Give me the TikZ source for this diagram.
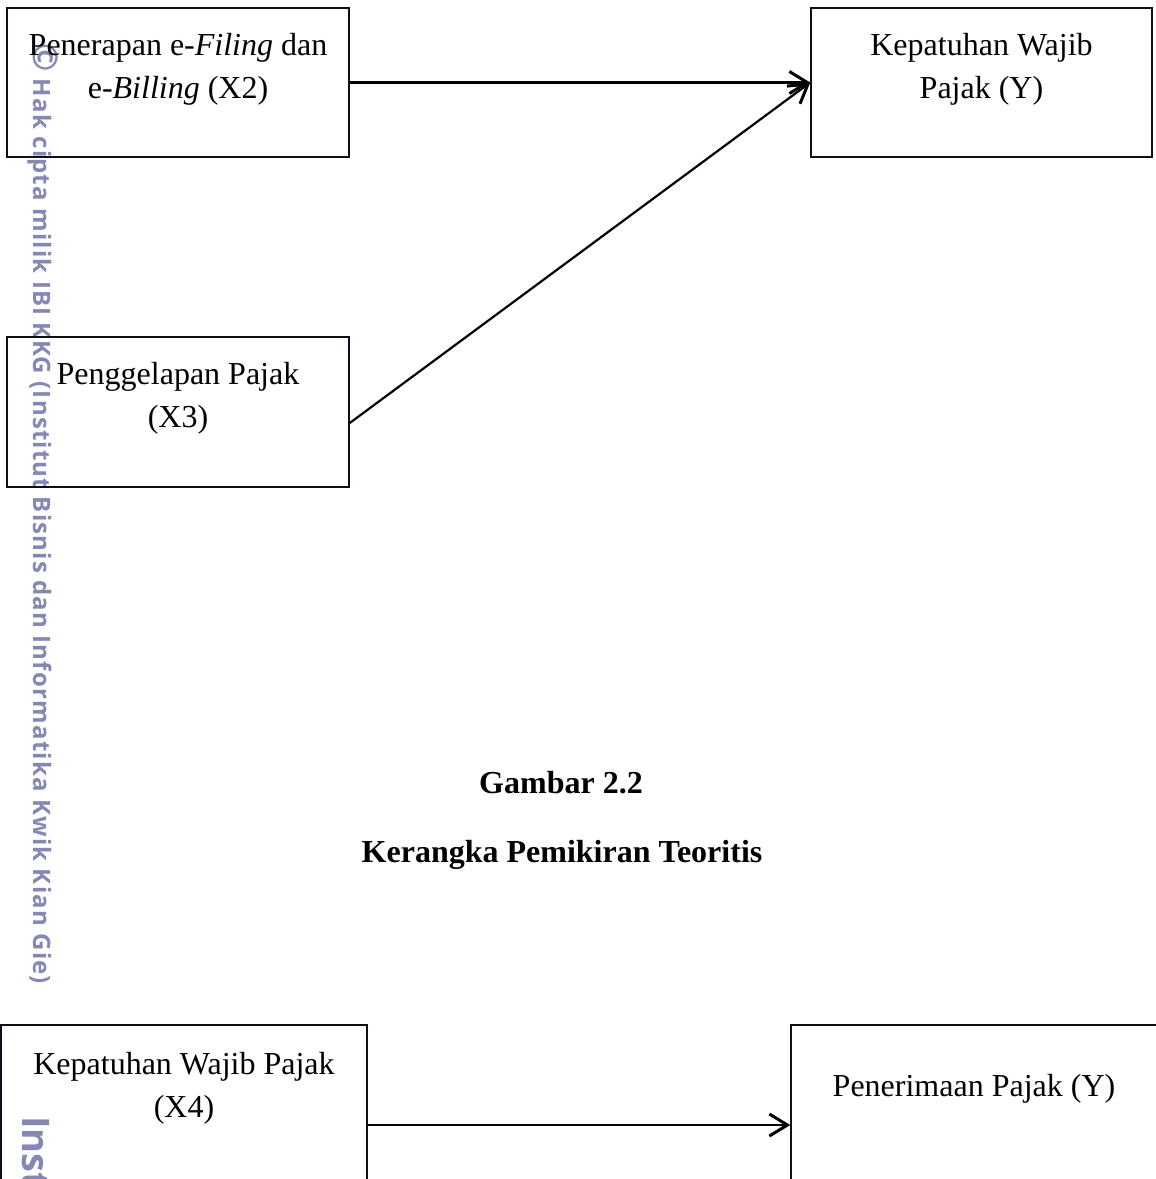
\documentclass[tikz,border=0pt]{standalone}
\usepackage{fontspec}
\setmainfont{Liberation Serif}
\newfontfamily\wmfont[LetterSpace=5]{Open Sans}
\newfontfamily\wmbigfont{Open Sans}
\usetikzlibrary{arrows.meta, positioning}
\definecolor{boxline}{RGB}{15,15,25}
\definecolor{boxblue}{RGB}{85,115,165}
\definecolor{wmgray}{RGB}{135,135,180}

\begin{document}
\begin{tikzpicture}[
    x=1pt, y=-1pt,
    font=\fontsize{32}{43}\selectfont,
    >={Straight Barb[length=18pt, width=22pt, line width=3pt]},
    box/.style={rectangle, draw=boxline, line width=1.5pt, preaction={draw=boxblue, line width=2.8pt}},
    boxtext/.style={inner sep=0pt, align=center},
    caption/.style={inner sep=0pt, anchor=base, font=\fontsize{32}{43}\selectfont\bfseries},
    link/.style={->, line width=2.2pt},
    watermark/.style={text=wmgray, rotate=-90, anchor=base west, inner sep=0pt, font=\wmfont\bfseries\fontsize{24}{24}\selectfont}
]

% Page
\fill[white] (0,0) rectangle (1156,1179);
\useasboundingbox (0,0) rectangle (1156,1179);
\clip (0,0) rectangle (1156,1179);

% Watermark
\node[watermark] (wm) at (33,43) {{\fontsize{34}{34}\selectfont\textcopyright}\ Hak cipta milik IBI KKG (Institut Bisnis dan Informatika Kwik Kian Gie)};
\node[watermark, font=\wmbigfont\bfseries\fontsize{38}{38}\selectfont] (wminst) at (22,1116) {Inst};

% Boxes
\node[box, minimum width=342pt, minimum height=149pt] (x2) at (178,82.5) {};
\node[box, minimum width=342pt, minimum height=150pt] (x3) at (178,412) {};
\node[box, minimum width=341pt, minimum height=149pt] (y) at (981.5,82.5) {};
\node[box, minimum width=366pt, minimum height=200pt] (x4) at (184,1125) {};
\node[box, minimum width=366pt, minimum height=200pt] (pen) at (974,1125) {};

% Box texts
\node[boxtext, below=26pt of x2.north] (x2txt) {Penerapan e-\textit{Filing} dan\\e-\textit{Billing} (X2)};
\node[boxtext, below=26pt of x3.north] (x3txt) {Penggelapan Pajak\\(X3)};
\node[boxtext, below=26pt of y.north] (ytxt) {Kepatuhan Wajib\\Pajak (Y)};
\node[boxtext, below=28pt of x4.north] (x4txt) {Kepatuhan Wajib Pajak\\(X4)};
\node[boxtext, below=50pt of pen.north] (pentxt) {Penerimaan Pajak (Y)};

% Caption
\node[caption] (fig) at (561,793) {Gambar 2.2};
\node[caption] (title) at (562,862) {Kerangka Pemikiran Teoritis};

% Arrows
\draw[link] (x2.east) -- (y.west);
\draw[link] ([yshift=-11pt]x3.east) -- (y.west);
\draw[link] (x4.east) -- (pen.west);

\end{tikzpicture}
\end{document}
